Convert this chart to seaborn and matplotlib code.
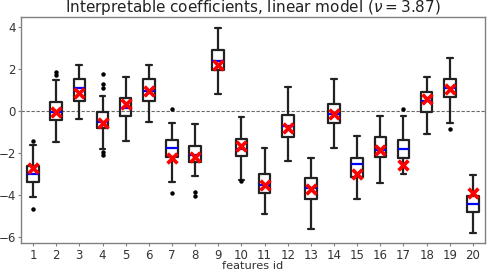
import matplotlib
matplotlib.use("Agg")
import matplotlib.pyplot as plt
import seaborn as sns

# Per-feature box statistics
features = list(range(1, 21))
q1 = [-3.35, -0.41, 0.49, -0.77, -0.20, 0.49, -2.19, -2.41, 1.96, -2.13,
      -3.87, -1.20, -4.15, -0.54, -3.11, -2.18, -2.24, -0.01, 0.70, -4.79]
medians = [-2.99, -0.01, 1.10, -0.51, 0.18, 0.97, -1.74, -2.08, 2.42, -1.78,
           -3.49, -0.68, -3.67, -0.14, -2.51, -1.83, -1.77, 0.51, 1.12, -4.42]
q3 = [-2.62, 0.44, 1.53, -0.01, 0.65, 1.53, -1.34, -1.66, 2.90, -1.32,
      -2.98, -0.17, -3.17, 0.35, -2.21, -1.23, -1.38, 0.92, 1.56, -4.04]
whisk_low = [-4.09, -1.47, -0.35, -1.78, -1.40, -0.49, -3.35, -3.07, 0.84, -3.26,
             -4.87, -2.37, -5.62, -1.72, -4.17, -3.41, -3.00, -1.06, -0.57, -5.80]
whisk_high = [-1.58, 1.47, 2.21, 0.73, 1.64, 2.20, -0.55, -0.58, 3.97, -0.27,
              -1.72, 1.18, -2.21, 1.52, -1.18, -0.20, -0.20, 1.63, 2.53, -3.05]
outliers = [[-1.39, -4.63], [1.88, 1.75], [], [1.76, 1.28, 1.12, -1.92, -2.06],
            [], [], [0.13, -3.89], [-3.85, -4.01], [], [-3.33],
            [], [], [], [], [], [], [0.13], [], [-0.82], []]
# true coefficients (red crosses)
true_coefs = [-2.68, -0.01, 0.89, -0.54, 0.35, 0.97, -2.22, -2.16, 2.21, -1.65,
              -3.50, -0.80, -3.70, -0.14, -2.97, -1.83, -2.56, 0.60, 1.06, -3.87]

sns.set_style("ticks")
plt.rcParams["font.family"] = ["DejaVu Sans"]

fig = plt.figure(figsize=(4.87, 2.72), dpi=100)
ax = fig.add_axes([0.0441, 0.1055, 0.9508, 0.8318])

stats = []
for i in range(len(features)):
    stats.append({"med": medians[i], "q1": q1[i], "q3": q3[i],
                  "whislo": whisk_low[i], "whishi": whisk_high[i],
                  "fliers": outliers[i]})

ax.axhline(0, color="dimgray", ls=(0, (3, 1.5)), lw=0.8, zorder=1)
ax.bxp(stats, positions=features, widths=0.5, showfliers=True,
       boxprops=dict(color="#222222", lw=1.6),
       whiskerprops=dict(color="#222222", lw=1.6),
       capprops=dict(color="#222222", lw=1.6),
       medianprops=dict(color="blue", lw=1.6),
       flierprops=dict(marker="o", markersize=2.2, markerfacecolor="black",
                       markeredgecolor="black"))

sns.scatterplot(x=features, y=true_coefs, marker="x", color="red", s=50,
                linewidth=2.6, ax=ax, zorder=5)

ax.set_xlim(0.5, 20.5)
ax.set_ylim(-6.28, 4.49)
ax.set_xticks(features)
ax.set_xticklabels([str(f) for f in features])
ax.set_yticks([-6, -4, -2, 0, 2, 4])
ax.tick_params(labelsize=8.5, colors="#333333", length=2.5, width=0.8, pad=1.5)
ax.tick_params(color="gray")
for s in ax.spines.values():
    s.set_color("gray")
    s.set_linewidth(1.0)
ax.set_xlabel("features id", fontsize=8.2, color="#333333", labelpad=-0.3)
ax.set_title(r"Interpretable coefficients, linear model ($\nu = 3.87$)",
             fontsize=11, color="#222222", pad=0)

fig.savefig("out.png", dpi=100)
